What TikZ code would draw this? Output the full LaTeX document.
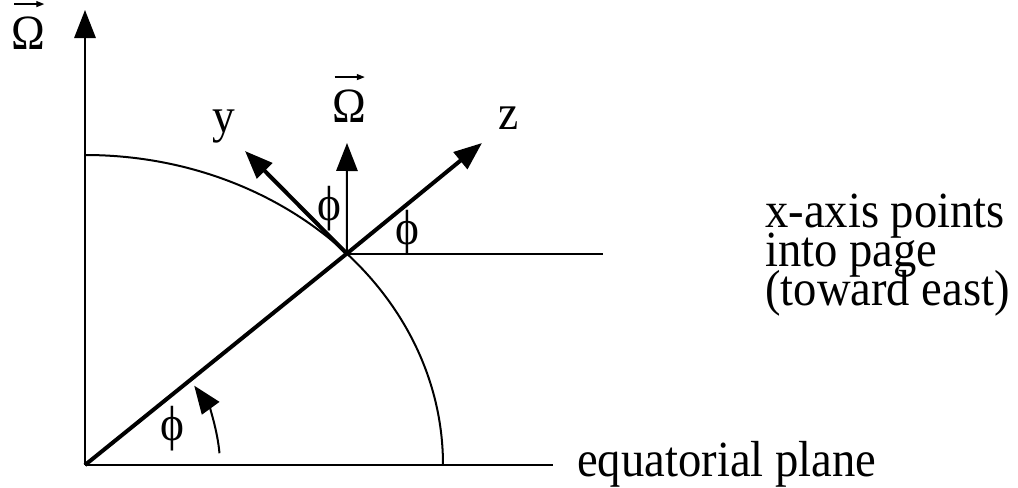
\documentclass[tikz,border=0pt]{standalone}
\usepackage{fontspec}
\setmainfont{Liberation Serif}[FakeStretch=0.92]
\usetikzlibrary{arrows.meta}
\newcommand{\tightlines}{\lineskiplimit=-100pt\relax\lineskip=0pt\relax}
\tikzset{
  thinline/.style={line width=1.5pt},
  thickline/.style={line width=3pt},
  headarrow/.style={-{Triangle[length=21pt,width=16pt]}},
  vecarrow/.style={line width=1pt,-{Triangle[length=6pt,width=4.5pt]}},
  lbl/.style={inner sep=0pt, font=\fontsize{37}{29.25}\selectfont},
  bigtxt/.style={inner sep=0pt, font=\fontsize{38}{29.25}\selectfont\tightlines, align=left},
}
\begin{document}
\begin{tikzpicture}[x=0.75pt,y=0.75pt]
\useasboundingbox (0,0) rectangle (1018,487);
% coordinates
\coordinate (O) at (85,22);
\coordinate (Atop) at (85,477);
\coordinate (Aend) at (553,22);
\coordinate (Estart) at (443,22);
\coordinate (P) at (346.8,233.4);
\coordinate (Ztip) at (482,344);
\coordinate (Wtip) at (347,344);
\coordinate (Ytip) at (245,336);
\coordinate (Hend) at (603,233.4);
% axes
\draw[thinline,headarrow] (O) -- (Atop);
\draw[thinline] (O) -- (Aend);
% earth quarter
\draw[thinline] (Estart) arc[start angle=0,end angle=90,x radius=358,y radius=310];
% radius line
\draw[thickline] (O) -- (P);
% local axes
\draw[thickline,headarrow] (P) -- (Ztip);
\draw[thickline,headarrow] (P) -- (Ytip);
\draw[thinline,headarrow] (P) -- (Wtip);
\draw[thinline] (P) -- (Hend);
% latitude arc
\draw[thinline,headarrow] ([shift={(5:135)}]O) arc[start angle=5,end angle=36,radius=135];
% labels
\node[lbl,anchor=base] (om1) at (28.5,438) {Ω};
\node[lbl,anchor=base] (om2) at (349,365) {Ω};
\draw[vecarrow] ([xshift=2pt,yshift=9pt]om1.north west) -- ([xshift=-1pt,yshift=9pt]om1.north east);
\draw[vecarrow] ([xshift=2pt,yshift=9pt]om2.north west) -- ([xshift=-1pt,yshift=9pt]om2.north east);
\node[lbl,anchor=base] (ly) at (224,355) {y};
\node[lbl,anchor=base] (lz) at (509,358) {z};
\node[lbl] (ph1) at (329,278) {ϕ};
\node[lbl] (ph2) at (407,254) {ϕ};
\node[lbl] (ph3) at (172,58.5) {ϕ};
\node[bigtxt,anchor=base west] (xt) at (765,182) {x-axis points\\into page\\(toward east)};
\node[bigtxt,anchor=base west] (eq) at (577,11) {equatorial plane};
\end{tikzpicture}
\end{document}
